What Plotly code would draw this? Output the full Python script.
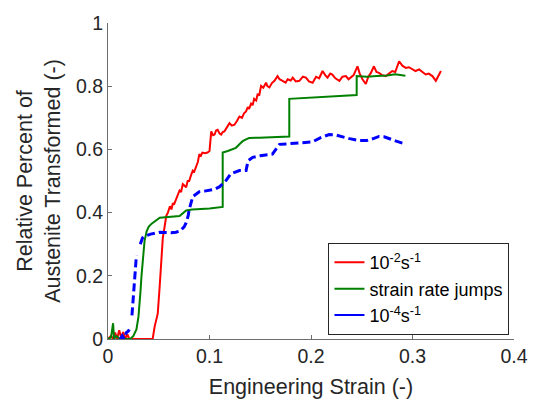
import plotly.graph_objects as go

# 10^-2 s^-1 test
red_strain = [0.0, 0.003, 0.005, 0.007, 0.009, 0.011, 0.013, 0.015, 0.017, 0.019, 0.021, 0.030,
              0.044, 0.046, 0.048, 0.049, 0.051, 0.053, 0.054, 0.056, 0.0574, 0.059, 0.061, 0.0625,
              0.0639, 0.065, 0.067, 0.069, 0.0705, 0.072, 0.0737, 0.0755, 0.077, 0.0785, 0.080, 0.082,
              0.0836, 0.085, 0.087, 0.0885, 0.090, 0.0915, 0.093, 0.0955, 0.098, 0.100, 0.1017, 0.1035,
              0.105, 0.1065, 0.108, 0.110, 0.1115, 0.113, 0.1147, 0.117, 0.1197, 0.122, 0.1246, 0.127,
              0.1295, 0.132, 0.134, 0.136, 0.1377, 0.139, 0.141, 0.1425, 0.144, 0.146, 0.1475, 0.149,
              0.1508, 0.153, 0.1557, 0.157, 0.159, 0.1615, 0.164, 0.167, 0.169, 0.172, 0.175, 0.177,
              0.180, 0.182, 0.185, 0.1885, 0.192, 0.195, 0.198, 0.2016, 0.205, 0.208, 0.2114, 0.214,
              0.2163, 0.219, 0.221, 0.224, 0.228, 0.231, 0.2344, 0.237, 0.239, 0.242, 0.2458, 0.248,
              0.2507, 0.254, 0.2565, 0.259, 0.262, 0.2645, 0.267, 0.270, 0.2737, 0.277, 0.280, 0.283,
              0.2868, 0.290, 0.2934, 0.2965, 0.300, 0.303, 0.3065, 0.310, 0.313, 0.316, 0.3196, 0.323,
              0.326, 0.328]
red_frac = [0.0, 0.010, 0.0, 0.020, 0.0, 0.028, 0.005, 0.022, 0.0, 0.015, 0.0, 0.0,
            0.0, 0.04, 0.07, 0.08, 0.17, 0.27, 0.32, 0.36, 0.39, 0.40, 0.42, 0.41,
            0.43, 0.425, 0.44, 0.455, 0.47, 0.465, 0.49, 0.485, 0.48, 0.50, 0.50, 0.52,
            0.533, 0.53, 0.545, 0.56, 0.585, 0.58, 0.59, 0.588, 0.59, 0.595, 0.657, 0.645,
            0.647, 0.66, 0.662, 0.65, 0.647, 0.655, 0.657, 0.67, 0.683, 0.675, 0.678, 0.69,
            0.704, 0.70, 0.714, 0.72, 0.734, 0.728, 0.745, 0.74, 0.76, 0.755, 0.776, 0.77,
            0.801, 0.795, 0.811, 0.80, 0.796, 0.81, 0.817, 0.832, 0.822, 0.817, 0.811, 0.822,
            0.818, 0.827, 0.815, 0.817, 0.83, 0.827, 0.815, 0.811, 0.83, 0.825, 0.848, 0.835,
            0.827, 0.84, 0.837, 0.825, 0.817, 0.83, 0.832, 0.822, 0.827, 0.835, 0.863, 0.84,
            0.822, 0.807, 0.83, 0.842, 0.863, 0.845, 0.842, 0.835, 0.832, 0.84, 0.848, 0.845,
            0.879, 0.865, 0.858, 0.86, 0.853, 0.848, 0.853, 0.845, 0.837, 0.84, 0.832, 0.817,
            0.837, 0.848]

# strain rate jump test
green_strain = [0.0, 0.003, 0.005, 0.006, 0.008, 0.012, 0.018, 0.022, 0.025, 0.028, 0.030, 0.031,
                0.032, 0.033, 0.034, 0.035, 0.036, 0.038, 0.040, 0.043, 0.047, 0.051, 0.0705, 0.074,
                0.077, 0.083, 0.100, 0.113, 0.113, 0.118, 0.123, 0.126, 0.130, 0.1327, 0.136, 0.139,
                0.149, 0.165, 0.1786, 0.1786, 0.190, 0.200, 0.215, 0.230, 0.245, 0.245, 0.255, 0.265,
                0.275, 0.283, 0.288, 0.293]
green_frac = [0.0, 0.005, 0.05, 0.0, 0.01, 0.0, 0.0, 0.0, 0.01, 0.03, 0.07, 0.10,
              0.15, 0.20, 0.24, 0.28, 0.31, 0.34, 0.355, 0.365, 0.375, 0.384, 0.389, 0.398,
              0.407, 0.41, 0.413, 0.418, 0.59, 0.595, 0.60, 0.605, 0.618, 0.626, 0.632, 0.636,
              0.637, 0.638, 0.641, 0.76, 0.762, 0.764, 0.766, 0.768, 0.772, 0.832, 0.83, 0.832,
              0.834, 0.838, 0.836, 0.833]

# 10^-4 s^-1 test (gaps where no phase data were recorded)
blue_strain = [0.012, 0.014, 0.016, 0.018, 0.020, 0.021, None,
               0.0236, 0.025, 0.026, 0.027, 0.028, None,
               0.0318, 0.034, 0.0377, 0.042, 0.047, 0.051, 0.056, 0.062, 0.067, 0.071, 0.075,
               0.077, 0.079, 0.080, 0.0836, 0.087, 0.090, 0.095, 0.100, 0.105, 0.110, 0.1164, 0.121,
               0.1295, 0.136, 0.138, 0.1426, 0.150, 0.162, 0.169, 0.1786, 0.190, 0.2016, 0.210, 0.218,
               0.225, 0.232, 0.238, 0.247, 0.255, 0.262, 0.267, 0.272, 0.278, 0.284, 0.290, 0.293]
blue_frac = [0.0, 0.01, 0.0, 0.02, 0.025, 0.03, None,
             0.075, 0.13, 0.18, 0.23, 0.265, None,
             0.30, 0.32, 0.327, 0.332, 0.335, 0.338, 0.337, 0.336, 0.338, 0.342, 0.355,
             0.368, 0.39, 0.41, 0.451, 0.46, 0.466, 0.468, 0.47, 0.474, 0.482, 0.502, 0.523,
             0.533, 0.533, 0.564, 0.575, 0.58, 0.585, 0.616, 0.618, 0.620, 0.624, 0.638, 0.647,
             0.645, 0.638, 0.634, 0.628, 0.628, 0.635, 0.641, 0.64, 0.632, 0.626, 0.62, 0.618]

x_ticks = [0, 0.1, 0.2, 0.3, 0.4]
x_tick_text = ["0", "0.1", "0.2", "0.3", "0.4"]
y_ticks = [0, 0.2, 0.4, 0.6, 0.8, 1.0]
y_tick_text = ["0", "0.2", "0.4", "0.6", "0.8", "1"]

series_names = ["10<sup>-2</sup>s<sup>-1</sup>", "strain rate jumps", "10<sup>-4</sup>s<sup>-1</sup>"]
series_colors = ["#ff0000", "#008000", "#0000ff"]

FONT = "Liberation Sans, Arial, Helvetica, sans-serif"
TEXT = "#262626"

fig = go.Figure()
fig.add_trace(go.Scatter(x=red_strain, y=red_frac, mode="lines", showlegend=False,
                         line=dict(color=series_colors[0], width=2)))
fig.add_trace(go.Scatter(x=green_strain, y=green_frac, mode="lines", showlegend=False,
                         line=dict(color=series_colors[1], width=2)))
fig.add_trace(go.Scatter(x=blue_strain, y=blue_frac, mode="lines", showlegend=False,
                         connectgaps=False,
                         line=dict(color=series_colors[2], width=3, dash="8px,4px")))

# legend keys drawn as plain solid lines
for name, color in zip(series_names, series_colors):
    fig.add_trace(go.Scatter(x=[None], y=[None], mode="lines", name=name,
                             line=dict(color=color, width=2)))

axis_common = dict(
    showline=True, linecolor="#6e6e6e", linewidth=1,
    ticks="inside", ticklen=4, tickcolor="#6e6e6e", tickwidth=1,
    showgrid=False, zeroline=False, mirror=False,
    tickfont=dict(family=FONT, size=19.5, color=TEXT),
)

fig.update_layout(
    width=540, height=411,
    margin=dict(l=108, r=25, t=16, b=72),
    paper_bgcolor="white", plot_bgcolor="white",
    font=dict(family=FONT, color=TEXT),
    xaxis=dict(range=[0, 0.4], tickvals=x_ticks, ticktext=x_tick_text,
               title=dict(text="Engineering Strain (-)", font=dict(family=FONT, size=21.5, color=TEXT),
                          standoff=12),
               **axis_common),
    yaxis=dict(range=[0, 1], tickvals=y_ticks, ticktext=y_tick_text,
               title=dict(text="Relative Percent of<br>Austenite Transformed (-)",
                          font=dict(family=FONT, size=21.5, color=TEXT), standoff=9),
               **axis_common),
    legend=dict(x=0.543, y=0.3035, xanchor="left", yanchor="top",
                bgcolor="white", bordercolor="#262626", borderwidth=1,
                font=dict(family=FONT, size=18, color="#000000"),
                tracegroupgap=0, itemwidth=30),
)

fig.write_html("out.html")
